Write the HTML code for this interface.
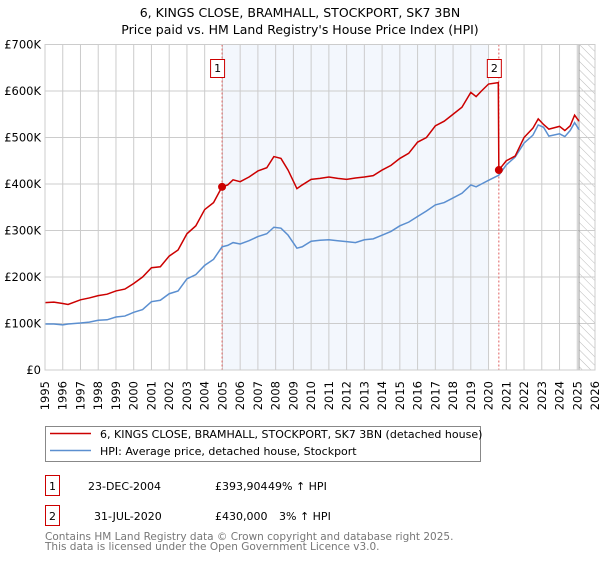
<!DOCTYPE html>
<html><head><meta charset="utf-8"><style>
body{margin:0;background:#fff;font-family:"Liberation Sans","DejaVu Sans",sans-serif}
svg text{font-family:"DejaVu Sans","Liberation Sans",sans-serif}
</style></head><body>
<svg width="600" height="560" xmlns="http://www.w3.org/2000/svg">
<text x="300" y="17" text-anchor="middle" font-size="12.5">6, KINGS CLOSE, BRAMHALL, STOCKPORT, SK7 3BN</text>
<text x="300" y="34" text-anchor="middle" font-size="12.5">Price paid vs. HM Land Registry's House Price Index (HPI)</text>
<g id="plot"></g>
<g id="legend">
<rect x="45.5" y="426.5" width="435" height="35" fill="#fff" stroke="#888"/>
<line x1="50" y1="433.5" x2="91" y2="433.5" stroke="#cc0000" stroke-width="1.5"/>
<text x="100" y="438" font-size="11">6, KINGS CLOSE, BRAMHALL, STOCKPORT, SK7 3BN (detached house)</text>
<line x1="50" y1="450.5" x2="91" y2="450.5" stroke="#5b8fd0" stroke-width="1.5"/>
<text x="100" y="455" font-size="11">HPI: Average price, detached house, Stockport</text>
</g>
<g font-size="11">
<rect x="45.5" y="475.5" width="14" height="20" fill="#fff" stroke="#cc0000"/>
<text x="52.5" y="490" text-anchor="middle">1</text>
<text x="88" y="490">23-DEC-2004</text>
<text x="215" y="490">£393,904</text>
<text x="268" y="490">49% ↑ HPI</text>
<rect x="45.5" y="505.5" width="14" height="20" fill="#fff" stroke="#cc0000"/>
<text x="52.5" y="520" text-anchor="middle">2</text>
<text x="94" y="520">31-JUL-2020</text>
<text x="215" y="520">£430,000</text>
<text x="279" y="520">3% ↑ HPI</text>
</g>
<text x="45" y="540" font-size="10.5" fill="#777">Contains HM Land Registry data © Crown copyright and database right 2025.</text>
<text x="45" y="550" font-size="10.5" fill="#777">This data is licensed under the Open Government Licence v3.0.</text>
</svg>
<script>
const hpiYears=[1995,1995.5,1996,1996.3,1997,1997.5,1998,1998.5,1999,1999.5,2000,2000.5,2001,2001.5,2002,2002.5,2003,2003.5,2004,2004.5,2004.98,2005.3,2005.6,2006,2006.5,2007,2007.5,2007.9,2008.3,2008.7,2009.2,2009.5,2010,2010.5,2011,2011.5,2012,2012.5,2013,2013.5,2014,2014.5,2015,2015.5,2016,2016.5,2017,2017.5,2018,2018.5,2019,2019.3,2019.6,2020,2020.58,2021,2021.5,2022,2022.5,2022.8,2023.1,2023.4,2024,2024.3,2024.6,2024.85,2025.1];
const hpiValues=[99,99,97,99,101,103,107,108,114,116,124,130,147,150,164,170,196,205,225,238,265,268,274,271,278,287,293,307,305,290,262,265,277,279,280,278,276,274,280,282,290,298,310,318,330,342,355,360,370,380,398,394,400,408,419,441,458,488,505,527,522,503,508,502,515,532,517];
const priceYears=[1995,1995.5,1996,1996.3,1997,1997.5,1998,1998.5,1999,1999.5,2000,2000.5,2001,2001.5,2002,2002.5,2003,2003.5,2004,2004.5,2004.98,2005.3,2005.6,2006,2006.5,2007,2007.5,2007.9,2008.3,2008.7,2009.2,2009.5,2010,2010.5,2011,2011.5,2012,2012.5,2013,2013.5,2014,2014.5,2015,2015.5,2016,2016.5,2017,2017.5,2018,2018.5,2019,2019.3,2019.6,2020,2020.55,2020.58,2021,2021.5,2022,2022.5,2022.8,2023.1,2023.4,2024,2024.3,2024.6,2024.85,2025.1];
const priceValues=[145,146,143,141,151,155,160,163,170,174,186,200,220,222,245,258,293,310,345,360,394,398,409,405,415,428,435,459,455,430,390,398,410,412,415,412,410,413,415,418,430,440,455,466,490,500,525,535,550,565,597,588,600,615,618,430,450,460,500,520,540,528,518,524,515,525,548,535];
const sales=[{label:"1",year:2004.98,value:393.904},{label:"2",year:2020.58,value:430}];
const yTicks=[0,100,200,300,400,500,600,700];
const yTickLabels=["£0","£100K","£200K","£300K","£400K","£500K","£600K","£700K"];
const xTicks=[1995,1996,1997,1998,1999,2000,2001,2002,2003,2004,2005,2006,2007,2008,2009,2010,2011,2012,2013,2014,2015,2016,2017,2018,2019,2020,2021,2022,2023,2024,2025,2026];

const L=45,R=595,T=44.5,B=370;
const x=y=>L+(y-1995)/(2026-1995)*(R-L);
const yv=v=>B-v/700*(B-T);
const NS="http://www.w3.org/2000/svg";
const g=document.getElementById('plot');
function mk(tag,attrs,parent){const e=document.createElementNS(NS,tag);for(const k in attrs)e.setAttribute(k,attrs[k]);(parent||g).appendChild(e);return e;}
let e;
e=mk('rect',{x:x(2004.98),y:T,width:x(2020.0)-x(2004.98),height:B-T,fill:'#eef3fc',opacity:0.7});


const defs=mk('defs',{});
const pat=mk('pattern',{id:'hatch',width:6,height:6,patternUnits:'userSpaceOnUse',patternTransform:'rotate(-45)'},defs);
mk('line',{x1:0,y1:0,x2:0,y2:6,stroke:'#bbb','stroke-width':1},pat);
e=mk('rect',{x:x(2025.1),y:T,width:R-x(2025.1),height:B-T,fill:'url(#hatch)'});


yTicks.forEach((t,i)=>{
 e=mk('line',{x1:L,x2:R,y1:yv(t),y2:yv(t),stroke:'#ccc','stroke-width':1});
 
 
 e=mk('text',{x:L-4,y:yv(t)+4,'text-anchor':'end','font-size':11.5});
 e.textContent=yTickLabels[i];
 
 
});
xTicks.forEach(t=>{
 e=mk('line',{x1:x(t),x2:x(t),y1:T,y2:B,stroke:'#ccc','stroke-width':1});
 
 
 e=mk('text',{x:0,y:0,'text-anchor':'end','font-size':11.5,transform:`translate(${x(t)+4},${B+11}) rotate(-90)`});
 e.textContent=t;
 
 
});
e=mk('line',{x1:x(2025.1),x2:x(2025.1),y1:T,y2:B,stroke:'#999','stroke-width':1});


sales.forEach(s=>{
 e=mk('line',{x1:x(s.year),x2:x(s.year),y1:T,y2:B,stroke:'#e06060','stroke-width':1,'stroke-dasharray':'2,2'});
 
 
});
e=mk('polyline',{points:hpiYears.map((t,i)=>x(t)+','+yv(hpiValues[i])).join(' '),fill:'none',stroke:'#5b8fd0','stroke-width':1.5});


e=mk('polyline',{points:priceYears.map((t,i)=>x(t)+','+yv(priceValues[i])).join(' '),fill:'none',stroke:'#cc0000','stroke-width':1.5});


sales.forEach(s=>{
 e=mk('circle',{cx:x(s.year),cy:yv(s.value),r:4,fill:'#cc0000'});
 
 
 e=mk('rect',{x:x(s.year)-11.5,y:59.5,width:14,height:18,fill:'#fff',stroke:'#cc0000'});
 
 
 e=mk('text',{x:x(s.year)-4.5,y:72,'text-anchor':'middle','font-size':11});
 e.textContent=s.label;
 
 
});
e=mk('rect',{x:L,y:T,width:R-L,height:B-T,fill:'none',stroke:'#ccc'});


</script>
</body></html>
